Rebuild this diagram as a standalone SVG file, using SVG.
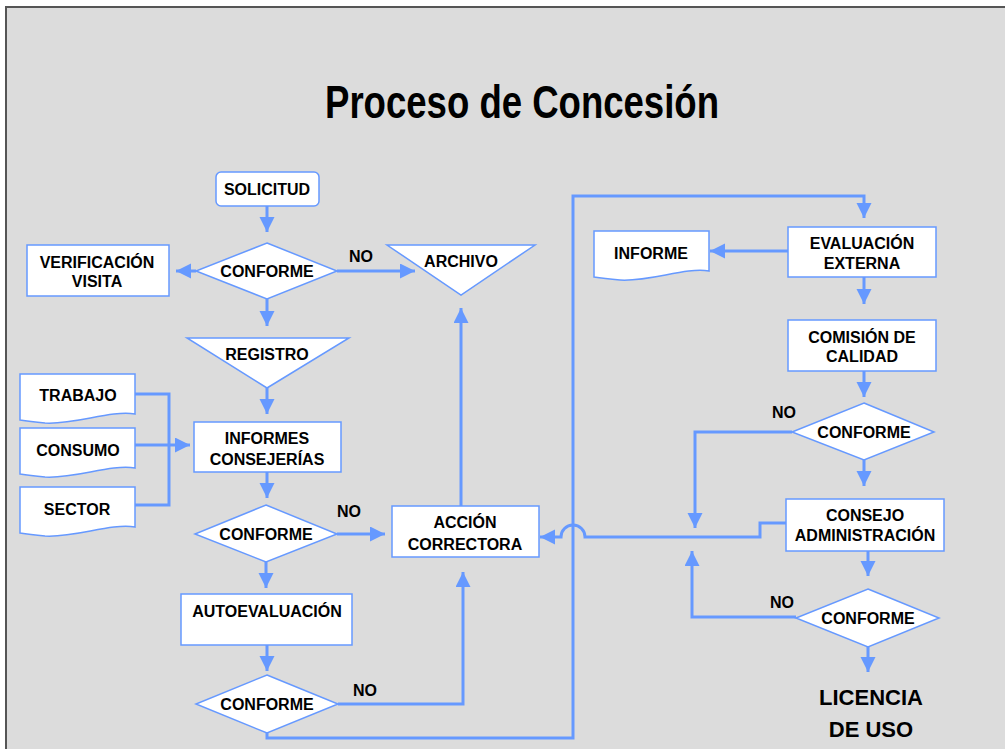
<svg xmlns="http://www.w3.org/2000/svg" width="1005" height="749" viewBox="0 0 1005 749">
<defs>
<style>
.node{fill:#ffffff;stroke:#6699ff;stroke-width:1.5}
.t{font-family:"Liberation Sans",Arial,sans-serif;font-weight:bold;font-size:16px;fill:#000;text-anchor:middle}
.lbl{font-family:"Liberation Sans",Arial,sans-serif;font-weight:bold;font-size:16px;fill:#000;text-anchor:middle}
.c{fill:none;stroke:#6699ff;stroke-width:3}
.ca{fill:none;stroke:#6699ff;stroke-width:3;marker-end:url(#ah)}
</style>
<marker id="ah" markerUnits="userSpaceOnUse" markerWidth="16" markerHeight="16" refX="15" refY="7.5" orient="auto">
<path d="M0,0 L15,7.5 L0,15 z" fill="#6699ff"/>
</marker>
</defs>
<rect x="0" y="0" width="1005" height="749" fill="#ffffff"/>
<rect x="6" y="7" width="1005" height="750" fill="#dcdcdc" stroke="#555555" stroke-width="2"/>
<text x="522" y="118" font-family="'Liberation Sans',Arial,sans-serif" font-weight="bold" font-size="46" text-anchor="middle" textLength="394" lengthAdjust="spacingAndGlyphs">Proceso de Concesión</text>

<g id="connectors">
<path class="ca" d="M267,206 V232"/>
<path class="ca" d="M196,271 H176"/>
<path class="ca" d="M337,271 H415"/>
<path class="ca" d="M267,299 V326"/>
<path class="ca" d="M267,388 V414"/>
<path class="c" d="M135,394 H169 V505 H135"/>
<path class="ca" d="M135,445 H190"/>
<path class="ca" d="M267,472 V498"/>
<path class="ca" d="M337,534 H385"/>
<path class="ca" d="M461,506 V308"/>
<path class="ca" d="M266,562 V588"/>
<path class="ca" d="M267,645 V671"/>
<path class="ca" d="M338,704 H463 V572"/>
<path class="ca" d="M267,733 V738 H573 V196 H864 V218"/>
<path class="ca" d="M788,251 H710"/>
<path class="ca" d="M864,277 V304"/>
<path class="ca" d="M864,371 V397"/>
<path class="ca" d="M792,432 H695 V528"/>
<path class="ca" d="M864,460 V486"/>
<path class="ca" d="M786,523 H760 V537 H585 A12,12 0 0 0 561,537 H540"/>
<path class="ca" d="M868,551 V576"/>
<path class="ca" d="M796,617 H692 V551"/>
<path class="ca" d="M868,647 V672"/>
</g>

<g id="solicitud"><rect class="node" x="216" y="172" width="103" height="34" rx="5"/><text class="t" x="267" y="195">SOLICITUD</text></g>
<g id="conforme1"><polygon class="node" points="267,243 337,271 267,299 196,271"/><text class="t" x="267" y="277">CONFORME</text></g>
<g id="verificacion"><rect class="node" x="27" y="245" width="142" height="51"/><text class="t" x="97" y="268">VERIFICACIÓN</text><text class="t" x="97" y="287">VISITA</text></g>
<g id="archivo"><polygon class="node" points="387,245 535,245 461,295"/><text class="t" x="461" y="267">ARCHIVO</text></g>
<g id="registro"><polygon class="node" points="187,338 349,338 267,388"/><text class="t" x="267" y="360">REGISTRO</text></g>
<g id="trabajo"><path class="node" d="M20,374 H135 V414 C110,410 75,425 45,423 C34,422 26,421 20,420 Z"/><text class="t" x="78" y="401">TRABAJO</text></g>
<g id="consumo"><path class="node" d="M20,428 H135 V468 C110,464 75,479 45,477 C34,476 26,475 20,474 Z"/><text class="t" x="78" y="456">CONSUMO</text></g>
<g id="sector"><path class="node" d="M20,487 H135 V527 C110,523 75,538 45,536 C34,535 26,534 20,533 Z"/><text class="t" x="77" y="515">SECTOR</text></g>
<g id="informes"><rect class="node" x="194" y="422" width="147" height="50"/><text class="t" x="267" y="444">INFORMES</text><text class="t" x="267" y="465">CONSEJERÍAS</text></g>
<g id="conforme2"><polygon class="node" points="266,505 337,534 266,562 195,534"/><text class="t" x="266" y="540">CONFORME</text></g>
<text class="lbl" x="349" y="517">NO</text>
<g id="accion"><rect class="node" x="392" y="506" width="147" height="51"/><text class="t" x="465" y="528">ACCIÓN</text><text class="t" x="465" y="550">CORRECTORA</text></g>
<g id="autoevaluacion"><rect class="node" x="181" y="594" width="171" height="51"/><text class="t" x="267" y="617">AUTOEVALUACIÓN</text></g>
<g id="conforme3"><polygon class="node" points="267,675 338,704 267,733 196,704"/><text class="t" x="267" y="710">CONFORME</text></g>
<text class="lbl" x="365" y="696">NO</text>
<text class="lbl" x="361" y="262">NO</text>

<g id="informe"><path class="node" d="M594,231 H709 V271 C685,267 650,282 620,280 C608,279 600,278 594,277 Z"/><text class="t" x="651" y="259">INFORME</text></g>
<g id="evaluacion"><rect class="node" x="788" y="227" width="148" height="50"/><text class="t" x="862" y="249">EVALUACIÓN</text><text class="t" x="862" y="269">EXTERNA</text></g>
<g id="comision"><rect class="node" x="788" y="320" width="148" height="51"/><text class="t" x="862" y="343">COMISIÓN DE</text><text class="t" x="862" y="362">CALIDAD</text></g>
<g id="conforme4"><polygon class="node" points="864,403 934,432 864,460 792,432"/><text class="t" x="864" y="438">CONFORME</text></g>
<text class="lbl" x="784" y="418">NO</text>
<g id="consejo"><rect class="node" x="786" y="499" width="158" height="52"/><text class="t" x="865" y="521">CONSEJO</text><text class="t" x="865" y="541">ADMINISTRACIÓN</text></g>
<g id="conforme5"><polygon class="node" points="868,589 939,618 868,647 796,618"/><text class="t" x="868" y="624">CONFORME</text></g>
<text class="lbl" x="782" y="608">NO</text>
<g id="licencia"><text class="t" x="871" y="705" font-size="22" style="font-size:22px">LICENCIA</text><text class="t" x="871" y="737" style="font-size:22px">DE USO</text></g>
</svg>
